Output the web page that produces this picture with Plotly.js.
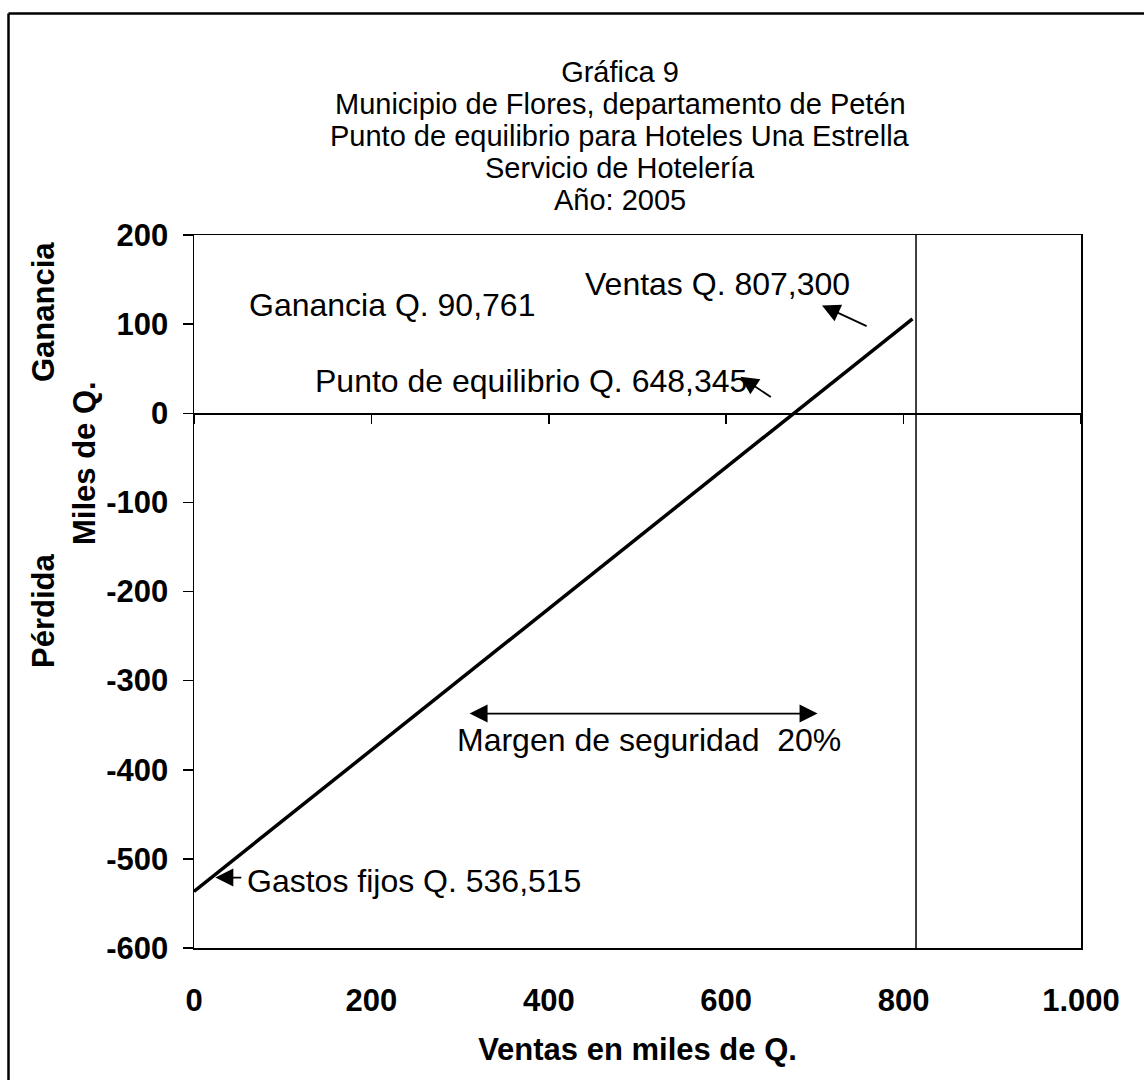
<!DOCTYPE html>
<html>
<head>
<meta charset="utf-8">
<script src="https://cdn.plot.ly/plotly-3.0.1.min.js"></script>
<style>html,body{margin:0;padding:0;background:#fff;}#chart{width:1144px;height:1080px;}</style>
</head>
<body>
<div id="chart"></div>
<script>
// Data (miles de Q.)
const ventas = [0, 810];
const resultado = [-536.5, 106];
const ventasActuales = 814;
const yRange = [-600, 200];
const yTickVals = [200, 100, 0, -100, -200, -300, -400, -500, -600];
const yTickText = ['200', '100', '0', '-100', '-200', '-300', '-400', '-500', '-600'];
const xTickVals = [0, 200, 400, 600, 800, 1000];
const xTickText = ['0', '200', '400', '600', '800', '1.000'];
const titleLines = [
  'Gráfica 9',
  'Municipio de Flores, departamento de Petén',
  'Punto de equilibrio para Hoteles Una Estrella',
  'Servicio de Hotelería',
  'Año: 2005'
];

const FONT = 'Liberation Sans, Arial, sans-serif';
const L = 194, T = 235, W = 887, H = 713;
const px = x => (x - L) / W;
const py = y => (T + H - y) / H;

const traces = [
  {x: ventas, y: resultado, mode: 'lines', line: {color: '#000', width: 3.5},
   xaxis: 'x', yaxis: 'y', hoverinfo: 'skip', showlegend: false},
  {x: [ventasActuales, ventasActuales], y: yRange, mode: 'lines', line: {color: '#000', width: 1.5},
   xaxis: 'x2', yaxis: 'y', hoverinfo: 'skip', showlegend: false}
];

const annFont = {family: FONT, size: 32, color: '#000'};
const boldFont = {family: FONT, size: 31, color: '#000', weight: 'bold'};
const titleFont = {family: FONT, size: 29, color: '#000'};
const titleY = [72, 104, 136, 168, 200];
const annotations = [];
titleLines.slice(1).forEach((t, i) => {
  annotations.push({xref: 'paper', yref: 'paper', x: px(620), y: py(titleY[i + 1]), text: t, showarrow: false,
    xanchor: 'center', yanchor: 'middle', font: titleFont});
});
const arrowStyle = {showarrow: true, arrowhead: 2, arrowsize: 2, arrowwidth: 1.8, arrowcolor: '#000', text: '',
                    xref: 'x', yref: 'y', axref: 'x', ayref: 'y'};
annotations.push(
  {xref: 'x', yref: 'y', x: 60, y: 121, text: 'Ganancia Q. 90,761', showarrow: false, xanchor: 'left', yanchor: 'middle', font: annFont},
  {xref: 'x', yref: 'y', x: 439, y: 145, text: 'Ventas Q. 807,300', showarrow: false, xanchor: 'left', yanchor: 'middle', font: annFont},
  {xref: 'x', yref: 'y', x: 134, y: 36, text: 'Punto de equilibrio Q. 648,345', showarrow: false, xanchor: 'left', yanchor: 'middle', font: annFont},
  {xref: 'x', yref: 'y', x: 294, y: -367, text: 'Margen de seguridad  20%', showarrow: false, xanchor: 'left', yanchor: 'middle', font: annFont},
  {xref: 'x', yref: 'y', x: 57, y: -525, text: 'Gastos fijos Q. 536,515', showarrow: false, xanchor: 'left', yanchor: 'middle', font: annFont},
  // arrows
  Object.assign({x: 708, y: 121, ax: 760, ay: 97}, arrowStyle),
  Object.assign({x: 616, y: 41, ax: 652, ay: 17}, arrowStyle),
  Object.assign({x: 24, y: -521, ax: 55, ay: -521}, arrowStyle),
  Object.assign({x: 703, y: -337, ax: 309, ay: -337, arrowside: 'end+start'}, arrowStyle),
  // side titles
  {xref: 'paper', yref: 'paper', x: px(43), y: py(312), text: '<b>Ganancia</b>', textangle: -90, showarrow: false, xanchor: 'center', yanchor: 'middle', font: boldFont},
  {xref: 'paper', yref: 'paper', x: px(43), y: py(611), text: '<b>Pérdida</b>', textangle: -90, showarrow: false, xanchor: 'center', yanchor: 'middle', font: boldFont},
  {xref: 'paper', yref: 'paper', x: px(84), y: py(463), text: '<b>Miles de Q.</b>', textangle: -90, showarrow: false, xanchor: 'center', yanchor: 'middle', font: boldFont}
);

const shapes = [
  {type: 'line', xref: 'paper', yref: 'paper', x0: px(8.5), x1: px(8.5), y0: py(13.5), y1: py(1090), line: {color: '#000', width: 2.5}},
  {type: 'line', xref: 'paper', yref: 'paper', x0: px(8.5), x1: px(1150), y0: py(13.5), y1: py(13.5), line: {color: '#000', width: 2.5}}
];

const layout = {
  width: 1144, height: 1080,
  margin: {l: L, r: 1144 - L - W, t: T, b: 1080 - T - H},
  paper_bgcolor: '#fff', plot_bgcolor: '#fff',
  font: {family: FONT, color: '#000'},
  title: {text: titleLines[0], xref: 'paper', x: px(620), xanchor: 'center', yref: 'container', y: 1 - titleY[0] / 1080, yanchor: 'middle',
          font: titleFont},
  showlegend: false,
  xaxis: {range: [0, 1000], tickvals: xTickVals, ticktext: xTickText, ticks: '', showline: true, mirror: true,
          linecolor: '#000', linewidth: 1.5, showgrid: false, zeroline: false, fixedrange: true,
          tickfont: boldFont, ticklabelstandoff: 24,
          title: {text: '<b>Ventas en miles de Q.</b>', font: boldFont, standoff: 21}},
  xaxis2: {range: [0, 1000], overlaying: 'x', anchor: 'free', position: 0.75, side: 'bottom', tickvals: xTickVals,
           ticks: 'outside', ticklen: 9, tickwidth: 1.5, tickcolor: '#000', showticklabels: false,
           showline: true, linecolor: '#000', linewidth: 1.5, showgrid: false, zeroline: false, fixedrange: true},
  yaxis: {range: yRange, tickvals: yTickVals, ticktext: yTickText, ticks: 'outside', ticklen: 10, tickwidth: 1.5, tickcolor: '#000',
          showline: true, mirror: true, linecolor: '#000', linewidth: 1.5, showgrid: false, zeroline: false, fixedrange: true,
          tickfont: boldFont, ticklabelstandoff: 8},
  annotations: annotations,
  shapes: shapes
};

Plotly.newPlot('chart', traces, layout, {displayModeBar: false, staticPlot: true});
</script>
</body>
</html>
